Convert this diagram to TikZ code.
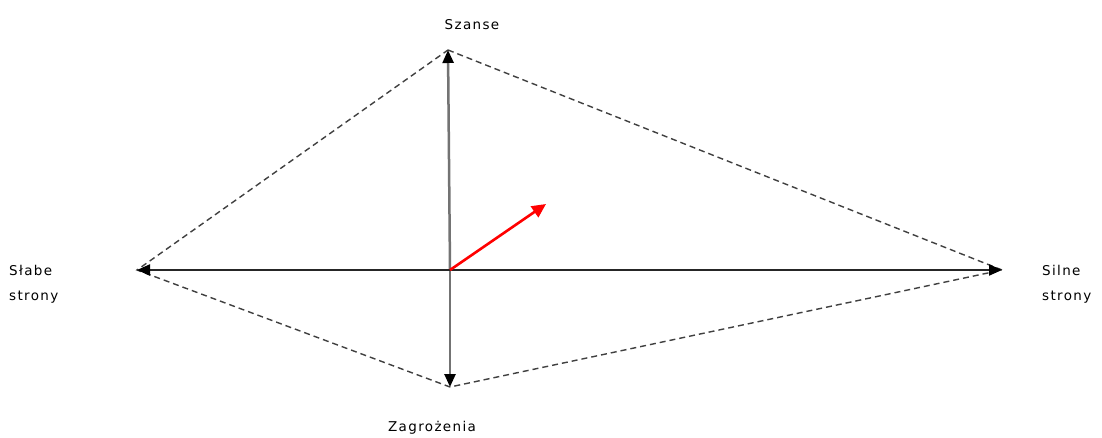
\documentclass[tikz,border=0pt]{standalone}
\usepackage{fontspec}
\setmainfont{DejaVu Sans}
\usetikzlibrary{arrows.meta}
\begin{document}
\begin{tikzpicture}[x=1pt,y=-1pt,
  lbl/.style={font=\fontsize{13.5}{25}\selectfont\addfontfeature{LetterSpace=10}, inner sep=0pt},
  axis/.style={line width=2pt,-{Triangle[length=13pt,width=11pt,color=black]}},
  dashline/.style={dash pattern=on 6pt off 4pt, line width=1.4pt, draw=black!75}]
\useasboundingbox[fill=white] (0,0) rectangle (1102,438);
\coordinate (O) at (450,270);
\coordinate (T) at (448,50);
\coordinate (B) at (450,387);
\coordinate (L) at (137,270);
\coordinate (R) at (1002,270);
\coordinate (E) at (546,204);
\draw[dashline] (T) -- (R) -- (B) -- (L) -- cycle;
\draw[axis, draw=black!55, line width=2.5pt] (O) -- (T);
\draw[axis, draw=black!55, line width=2.5pt] (O) -- (B);
\draw[axis, draw=black!85] (O) -- (L);
\draw[axis, draw=black!85] (O) -- (R);
\draw[line width=2.6pt, red, -{Triangle[length=14pt,width=13pt]}] (O) -- (E);
\node[lbl] (sz) at (472,25) {Szanse};
\node[lbl] (za) at (432,428) {Zagrożenia};
\node[lbl, align=left, anchor=west] (sl) at (9,284) {Słabe\\strony};
\node[lbl, align=left, anchor=west] (si) at (1042,284) {Silne\\strony};
\end{tikzpicture}
\end{document}
